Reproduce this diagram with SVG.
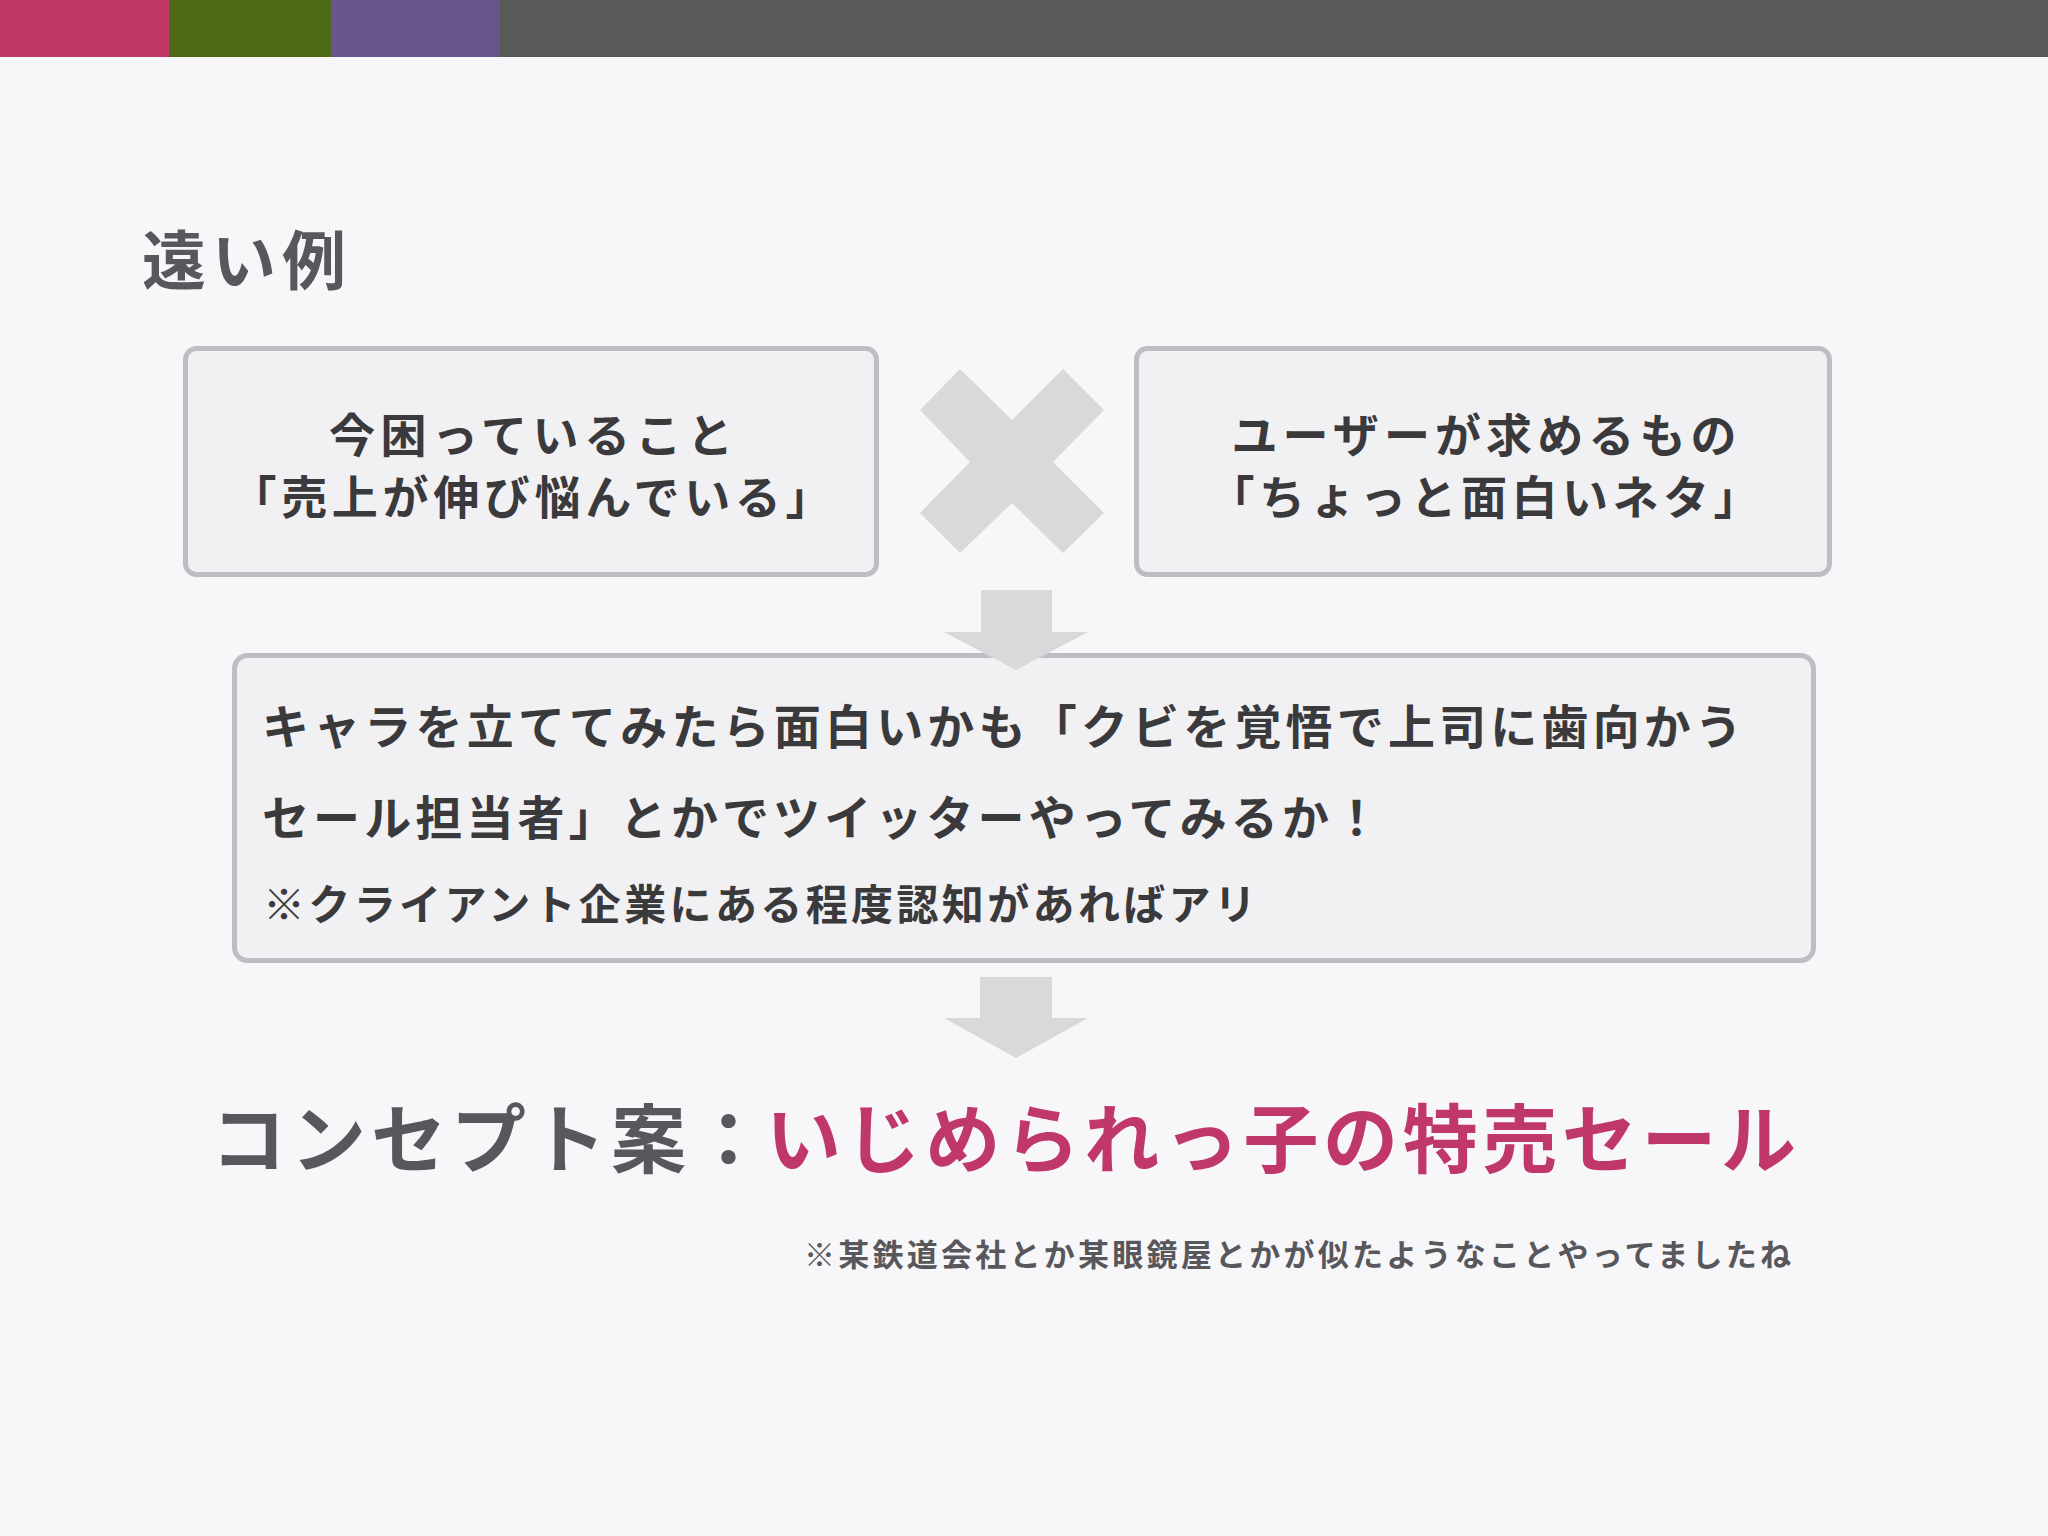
<svg xmlns="http://www.w3.org/2000/svg" width="2048" height="1536" viewBox="0 0 2048 1536">
<defs>
<style>
.t{font-family:"Noto Sans CJK JP","Noto Sans CJK SC",sans-serif;font-weight:700}
.dk{fill:#3a393c}
.gr{fill:#58575b}
.pk{fill:#c0386a}
.box{fill:#f1f0f3;stroke:#bebdc1;stroke-width:5}
.sh{fill:#d9d8db}
</style>
</defs>
<rect x="0" y="0" width="2048" height="1536" fill="#f7f6f9"/>
<g id="topbar">
<rect x="0" y="0" width="169" height="57" fill="#c03866"/>
<rect x="169" y="0" width="162" height="57" fill="#4b6a13"/>
<rect x="331" y="0" width="169" height="57" fill="#66568c"/>
<rect x="500" y="0" width="1548" height="57" fill="#585a58"/>
</g>
<g id="title">
<text class="t gr" x="142" y="284" font-size="64" textLength="204" lengthAdjust="spacing">遠い例</text>
</g>
<g id="node-problem">
<rect class="box" x="185.5" y="348.5" width="691" height="226" rx="11"/>
<text class="t dk" x="531" y="452" font-size="46" text-anchor="middle" textLength="404" lengthAdjust="spacing">今困っていること</text>
<text class="t dk" x="531" y="514" font-size="46" text-anchor="middle" textLength="601" lengthAdjust="spacing">「売上が伸び悩んでいる」</text>
</g>
<g id="node-user">
<rect class="box" x="1136.5" y="348.5" width="693" height="226" rx="11"/>
<text class="t dk" x="1484" y="452" font-size="46" text-anchor="middle" textLength="505" lengthAdjust="spacing">ユーザーが求めるもの</text>
<text class="t dk" x="1484" y="514" font-size="46" text-anchor="middle" textLength="551" lengthAdjust="spacing">「ちょっと面白いネタ」</text>
</g>
<g id="node-idea">
<rect class="box" x="234.5" y="655.5" width="1579" height="305" rx="13"/>
<text class="t dk" x="262" y="744" font-size="47" textLength="1480" lengthAdjust="spacing">キャラを立ててみたら面白いかも「クビを覚悟で上司に歯向かう</text>
<text class="t dk" x="262" y="835" font-size="47" textLength="1118" lengthAdjust="spacing">セール担当者」とかでツイッターやってみるか！</text>
<text class="t dk" x="263" y="920" font-size="42" textLength="993" lengthAdjust="spacing">※クライアント企業にある程度認知があればアリ</text>
</g>
<g id="connectors">
<polygon class="sh" points="920,410 960,369 1012,420 1063,369 1104,410 1053,462 1104,513 1063,553 1012,503 960,553 920,513 970,462"/>
<polygon class="sh" points="981,590 1052,590 1052,632 1088,632 1016,670 944,632 981,632"/>
<polygon class="sh" points="980,977 1052,977 1052,1018 1088,1018 1016,1058 944,1018 980,1018"/>
</g>
<g id="node-concept">
<text class="t gr" x="211" y="1167" font-size="75" textLength="555" lengthAdjust="spacing">コンセプト案：</text>
<text class="t pk" x="766" y="1167" font-size="75" textLength="1030" lengthAdjust="spacing">いじめられっ子の特売セール</text>
</g>
<g id="footnote">
<text class="t gr" x="804" y="1266" font-size="31" textLength="987" lengthAdjust="spacing">※某鉄道会社とか某眼鏡屋とかが似たようなことやってましたね</text>
</g>
</svg>
